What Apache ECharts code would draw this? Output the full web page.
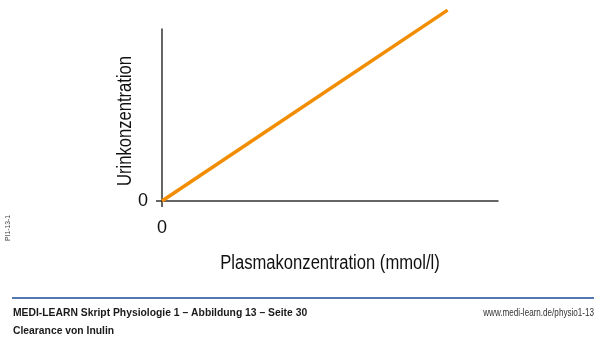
<!DOCTYPE html>
<html>
<head>
<meta charset="utf-8">
<script src="https://cdn.jsdelivr.net/npm/echarts@6/dist/echarts.min.js"></script>
<style>
  html, body { margin: 0; padding: 0; background: #fff; }
  #chart { width: 600px; height: 338px; }
</style>
</head>
<body>
<div id="chart"></div>
<script>
// Inulin clearance: urine concentration rises linearly with plasma concentration
const plasmaConc = [0, 8.5];
const urineConc = [0, 11.1];
const xTickValues = [0];
const yTickValues = [0];

const axisTitleX = 'Plasmakonzentration (mmol/l)';
const axisTitleY = 'Urinkonzentration';
const footerTitle = 'MEDI-LEARN Skript Physiologie 1 – Abbildung 13 – Seite 30';
const footerSubtitle = 'Clearance von Inulin';
const footerUrl = 'www.medi-learn.de/physio1-13';
const figureCode = 'PI1-13-1';

const FONT = '"Liberation Sans", Arial, sans-serif';
const AXIS_COLOR = '#333333';
const TEXT_COLOR = '#111111';

// condensed text helper: horizontally squeezed label placed at (x, y)
function squeezed(text, x, y, opts) {
  return {
    type: 'text',
    x: x, y: y,
    rotation: opts.rotation || 0,
    scaleX: opts.scaleX || 1,
    silent: true,
    style: {
      text: text,
      fill: opts.fill || TEXT_COLOR,
      font: opts.font,
      align: opts.align || 'left', textAlign: opts.align || 'left',
      verticalAlign: 'middle', textVerticalAlign: 'middle'
    }
  };
}

const chart = echarts.init(document.getElementById('chart'), null, { renderer: 'canvas' });

const option = {
  animation: false,
  backgroundColor: '#ffffff',
  grid: { left: 162, top: 29, width: 336, height: 172 },
  xAxis: {
    type: 'value',
    min: 0,
    max: 10,
    splitLine: { show: false },
    axisLine: { show: true, onZero: false, lineStyle: { color: AXIS_COLOR, width: 1.5 } },
    axisTick: { show: true, length: 6, customValues: xTickValues, lineStyle: { color: AXIS_COLOR, width: 1.5 } },
    axisLabel: { customValues: xTickValues, margin: 18, fontSize: 18, color: TEXT_COLOR, fontFamily: FONT }
  },
  yAxis: {
    type: 'value',
    min: 0,
    max: 10,
    splitLine: { show: false },
    axisLine: { show: true, onZero: false, lineStyle: { color: AXIS_COLOR, width: 1.5 } },
    axisTick: { show: true, length: 6, customValues: yTickValues, lineStyle: { color: AXIS_COLOR, width: 1.5 } },
    axisLabel: { customValues: yTickValues, margin: 14, fontSize: 18, color: TEXT_COLOR, fontFamily: FONT }
  },
  series: [{
    type: 'line',
    data: plasmaConc.map((x, i) => [x, urineConc[i]]),
    clip: false,
    symbol: 'none',
    lineStyle: { color: '#F28C00', width: 3.5, cap: 'butt' }
  }],
  graphic: [
    // axis titles
    squeezed(axisTitleX, 330, 263, { font: '20px ' + FONT, align: 'center', scaleX: 0.83 }),
    squeezed(axisTitleY, 125, 121, { font: '20px ' + FONT, align: 'center', scaleX: 0.83, rotation: Math.PI / 2 }),
    // footer rule and captions
    {
      type: 'line',
      shape: { x1: 12, y1: 298, x2: 594, y2: 298 },
      style: { stroke: '#5479b0', lineWidth: 2 }
    },
    squeezed(footerTitle, 13, 313, { font: 'bold 11px ' + FONT, scaleX: 0.94, fill: '#1a1a1a' }),
    squeezed(footerSubtitle, 13, 331, { font: 'bold 11px ' + FONT, scaleX: 0.94, fill: '#1a1a1a' }),
    squeezed(footerUrl, 594, 313, { font: '10px ' + FONT, align: 'right', scaleX: 0.81, fill: '#333' }),
    // figure code along the left margin
    squeezed(figureCode, 8, 228, { font: '8px ' + FONT, align: 'center', scaleX: 0.85, fill: '#444', rotation: Math.PI / 2 })
  ]
};

chart.setOption(option);
</script>
</body>
</html>
